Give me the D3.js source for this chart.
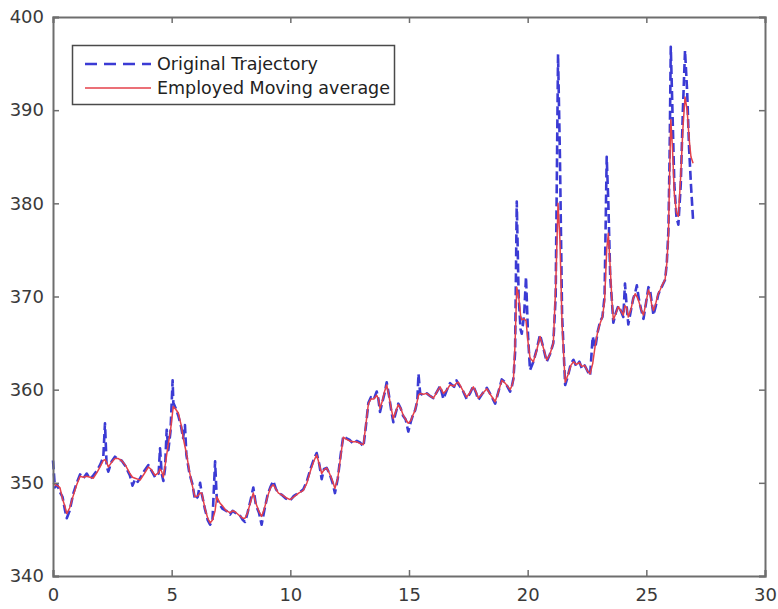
<!DOCTYPE html>
<html>
<head>
<meta charset="utf-8">
<script src="https://cdn.jsdelivr.net/npm/d3@7"></script>
<style>
  html, body { margin: 0; padding: 0; background: #ffffff; }
  svg { display: block; }
</style>
</head>
<body>
<svg id="chart" width="778" height="609"></svg>
<script>
// ---- data ----
const time = [
  0.00,0.08,0.18,0.29,0.40,0.51,0.58,0.70,0.85,1.00,1.14,1.28,1.42,1.56,1.70,1.85,2.00,2.12,2.19,2.26,
  2.33,2.47,2.61,2.75,2.89,3.05,3.24,3.35,3.46,3.57,3.67,3.85,4.02,4.15,4.30,4.45,4.51,4.58,4.65,4.72,
  4.79,4.86,4.95,5.04,5.07,5.17,5.28,5.40,5.48,5.56,5.62,5.75,5.88,5.98,6.10,6.20,6.27,6.40,6.52,6.62,
  6.72,6.83,6.90,7.04,7.15,7.30,7.46,7.57,7.67,7.85,8.00,8.09,8.20,8.33,8.44,8.55,8.68,8.79,8.90,9.05,
  9.17,9.28,9.40,9.50,9.65,9.82,9.99,10.15,10.35,10.55,10.70,10.85,11.00,11.11,11.22,11.32,11.42,11.53,11.65,11.78,
  11.88,12.00,12.12,12.23,12.35,12.50,12.65,12.80,12.95,13.08,13.18,13.29,13.40,13.52,13.64,13.71,13.78,13.88,13.97,14.06,
  14.15,14.25,14.34,14.45,14.55,14.65,14.75,14.86,14.97,15.08,15.17,15.26,15.35,15.40,15.47,15.60,15.75,15.90,16.03,16.18,
  16.31,16.45,16.60,16.73,16.90,17.00,17.08,17.25,17.43,17.57,17.71,17.82,17.92,18.10,18.28,18.45,18.63,18.77,18.91,19.05,
  19.26,19.33,19.40,19.47,19.54,19.62,19.70,19.75,19.85,19.93,20.02,20.10,20.24,20.38,20.52,20.66,20.80,20.94,21.08,21.18,
  21.28,21.36,21.45,21.58,21.70,21.82,21.93,22.05,22.18,22.28,22.40,22.52,22.63,22.74,22.85,22.95,23.05,23.15,23.24,23.33,
  23.40,23.48,23.55,23.61,23.72,23.82,23.92,24.03,24.10,24.17,24.24,24.35,24.45,24.53,24.60,24.68,24.78,24.88,24.98,25.09,
  25.15,25.22,25.30,25.40,25.50,25.58,25.68,25.79,25.86,25.93,25.98,26.03,26.10,26.18,26.27,26.35,26.45,26.54,26.63,26.72,
  26.80,26.88,26.97
];

const originalTrajectory = [
  352.4,349.5,349.8,349.0,348.5,347.0,346.2,347.0,348.8,350.0,350.9,350.5,351.0,350.4,350.8,351.3,352.0,352.8,356.4,351.8,
  351.2,352.3,352.8,352.5,352.4,351.8,350.8,349.7,350.4,350.1,350.5,351.3,351.9,351.3,350.6,351.0,353.7,351.0,350.2,351.5,
  355.7,353.5,355.5,361.0,358.6,358.0,357.2,356.0,354.8,356.2,353.0,351.0,349.8,348.2,348.5,350.0,348.8,347.2,346.0,345.5,
  346.0,352.3,348.3,347.6,347.2,347.0,346.6,347.0,346.8,346.6,346.0,345.8,346.8,348.2,349.5,347.6,346.8,345.5,347.0,348.8,
  349.6,350.2,349.3,348.9,348.7,348.3,348.1,348.6,348.9,349.3,350.2,351.5,352.6,353.2,352.0,350.4,351.5,351.6,351.0,350.0,
  348.9,350.5,353.0,355.0,354.8,354.6,354.2,354.5,354.3,353.9,356.0,358.6,359.2,359.0,359.8,359.0,357.6,358.7,359.6,360.8,
  359.5,357.8,356.5,357.6,358.5,358.0,357.2,356.8,355.5,356.6,357.3,357.8,358.8,361.7,359.6,359.4,359.6,359.3,359.1,359.8,
  360.4,359.0,360.0,360.7,360.3,361.0,360.6,360.0,359.0,359.6,360.4,359.7,358.9,359.6,360.2,359.4,358.5,359.8,361.1,360.8,
  359.8,360.3,361.2,364.0,380.2,370.0,366.5,366.0,368.0,372.1,365.5,362.1,363.0,364.3,365.9,364.5,363.0,363.8,365.0,370.0,
  396.0,385.0,368.0,360.5,361.5,362.8,363.2,362.5,363.0,362.3,362.6,362.0,361.5,365.7,364.5,366.2,367.3,367.8,370.0,385.0,
  380.0,372.0,369.5,367.2,368.3,369.0,368.5,367.8,371.4,369.0,367.0,368.5,369.8,370.4,371.2,369.8,368.6,367.6,369.2,371.0,
  370.8,369.5,368.0,369.0,370.2,370.7,371.2,371.8,373.5,377.0,385.0,396.8,390.0,382.0,378.5,377.7,382.0,390.0,396.4,392.0,
  386.0,382.0,378.2
];

const movingAverage = [
  350.0,349.8,349.7,349.5,348.3,347.4,346.7,347.3,348.6,349.8,350.7,350.6,350.7,350.6,350.5,351.1,351.8,352.4,352.5,352.2,
  351.7,352.2,352.6,352.6,352.4,351.9,351.0,350.6,350.5,350.4,350.3,351.0,351.7,351.4,350.8,351.1,351.5,351.2,350.6,351.8,
  353.0,354.2,355.6,357.6,358.2,357.9,357.5,356.2,354.9,353.9,353.2,351.2,349.6,348.5,348.6,348.9,348.9,347.3,346.2,345.7,
  346.0,347.0,348.5,347.8,347.5,347.0,346.8,347.0,346.9,346.5,346.2,346.2,346.8,348.0,348.9,347.8,346.9,346.4,347.2,348.6,
  349.5,349.8,349.3,348.9,348.7,348.4,348.2,348.5,348.9,349.2,350.0,351.3,352.4,353.0,352.0,351.0,351.4,351.6,351.0,350.2,
  349.4,350.5,352.8,354.9,354.7,354.5,354.4,354.4,354.2,354.1,356.2,358.5,359.0,359.0,359.4,359.0,358.0,358.8,359.8,360.5,
  359.4,358.0,356.9,357.7,358.4,358.0,357.3,356.8,356.4,356.7,357.3,357.8,358.8,359.4,359.6,359.5,359.6,359.3,359.1,359.8,
  360.3,359.6,360.0,360.5,360.4,360.7,360.8,360.0,359.2,359.7,360.3,359.8,359.1,359.6,360.1,359.4,358.7,359.8,361.0,360.7,
  360.0,360.4,361.0,365.0,371.0,370.0,368.0,367.5,367.6,367.4,365.0,363.4,363.0,364.2,365.7,364.5,363.2,363.8,365.0,371.0,
  380.0,376.0,367.0,360.8,361.6,362.6,363.0,362.7,362.9,362.5,362.6,362.0,361.7,362.8,364.8,366.2,367.1,367.8,369.5,375.0,
  376.8,373.0,369.5,367.5,368.2,368.9,368.5,368.0,369.0,368.8,367.8,368.6,369.8,370.3,370.0,369.5,368.6,368.0,369.3,370.7,
  370.3,369.2,368.5,369.3,370.3,370.7,371.3,371.8,373.5,376.4,383.0,389.0,386.0,381.0,379.0,378.6,383.0,388.0,391.4,390.0,
  387.0,385.0,384.3
];

const xTicks = [0, 5, 10, 15, 20, 25, 30];
const yTicks = [340, 350, 360, 370, 380, 390, 400];
const legendLabels = ["Original Trajectory", "Employed Moving average"];

// ---- layout ----
const svg = d3.select("#chart");
const plot = { left: 53, top: 17, right: 765, bottom: 576 };

const x = d3.scaleLinear().domain([0, 30]).range([plot.left, plot.right]);
const y = d3.scaleLinear().domain([340, 400]).range([plot.bottom, plot.top]);

const axisColor = "#6e6e6e";
const textColor = "#3a3a3a";
const fontFamily = "'DejaVu Sans', 'Liberation Sans', Arial, sans-serif";

svg.append("rect")
  .attr("x", plot.left).attr("y", plot.top)
  .attr("width", plot.right - plot.left).attr("height", plot.bottom - plot.top)
  .attr("fill", "#ffffff");

// ---- lines ----
const origPts = time.map((t, i) => [t, originalTrajectory[i]]);
const avgPts = time.map((t, i) => [t, movingAverage[i]]);
const lineGen = d3.line().x(d => x(d[0])).y(d => y(d[1]));

svg.append("path")
  .datum(origPts)
  .attr("d", lineGen)
  .attr("fill", "none")
  .attr("stroke", "#3b3bd4")
  .attr("stroke-width", 2.6)
  .attr("stroke-dasharray", "9,4")
  .attr("stroke-linejoin", "round");

svg.append("path")
  .datum(avgPts)
  .attr("d", lineGen)
  .attr("fill", "none")
  .attr("stroke", "#e4404a")
  .attr("stroke-width", 1.5)
  .attr("stroke-linejoin", "round");

// ---- axes (MATLAB-style box with inward ticks) ----
const tickLen = 6;
const axBottom = svg.append("g").attr("transform", `translate(0,${plot.bottom})`)
  .call(d3.axisBottom(x).tickValues(xTicks).tickSize(-tickLen).tickPadding(12).tickFormat(d3.format("d")));
const axTop = svg.append("g").attr("transform", `translate(0,${plot.top})`)
  .call(d3.axisTop(x).tickValues(xTicks).tickSize(-tickLen).tickFormat(""));
const axLeft = svg.append("g").attr("transform", `translate(${plot.left},0)`)
  .call(d3.axisLeft(y).tickValues(yTicks).tickSize(-tickLen).tickPadding(9).tickFormat(d3.format("d")));
const axRight = svg.append("g").attr("transform", `translate(${plot.right},0)`)
  .call(d3.axisRight(y).tickValues(yTicks).tickSize(-tickLen).tickFormat(""));

[axBottom, axTop, axLeft, axRight].forEach(g => {
  g.select(".domain").attr("stroke", axisColor).attr("stroke-width", 2);
  g.selectAll(".tick line").attr("stroke", axisColor).attr("stroke-width", 1.5);
  g.selectAll(".tick text")
    .attr("fill", textColor)
    .style("font-family", fontFamily)
    .style("font-size", "18px");
});

// ---- legend ----
const legend = svg.append("g");
legend.append("rect")
  .attr("x", 72.5).attr("y", 45.5)
  .attr("width", 322).attr("height", 59)
  .attr("fill", "#ffffff")
  .attr("stroke", "#4a4a4a")
  .attr("stroke-width", 1.5);

const legendStyles = [
  { color: "#3b3bd4", width: 2.6, dash: "12,7" },
  { color: "#e4404a", width: 1.5, dash: null }
];
const legendRowY = [64, 88];
const legendTextWidth = [161, 233];
legendLabels.forEach((label, i) => {
  const ln = legend.append("line")
    .attr("x1", 85).attr("x2", 151)
    .attr("y1", legendRowY[i]).attr("y2", legendRowY[i])
    .attr("stroke", legendStyles[i].color)
    .attr("stroke-width", legendStyles[i].width);
  if (legendStyles[i].dash) ln.attr("stroke-dasharray", legendStyles[i].dash);
  legend.append("text")
    .attr("x", 157).attr("y", legendRowY[i])
    .attr("dy", "0.35em")
    .attr("fill", "#222222")
    .attr("textLength", legendTextWidth[i])
    .attr("lengthAdjust", "spacingAndGlyphs")
    .style("font-family", fontFamily)
    .style("font-size", "17px")
    .text(label);
});
</script>
</body>
</html>
